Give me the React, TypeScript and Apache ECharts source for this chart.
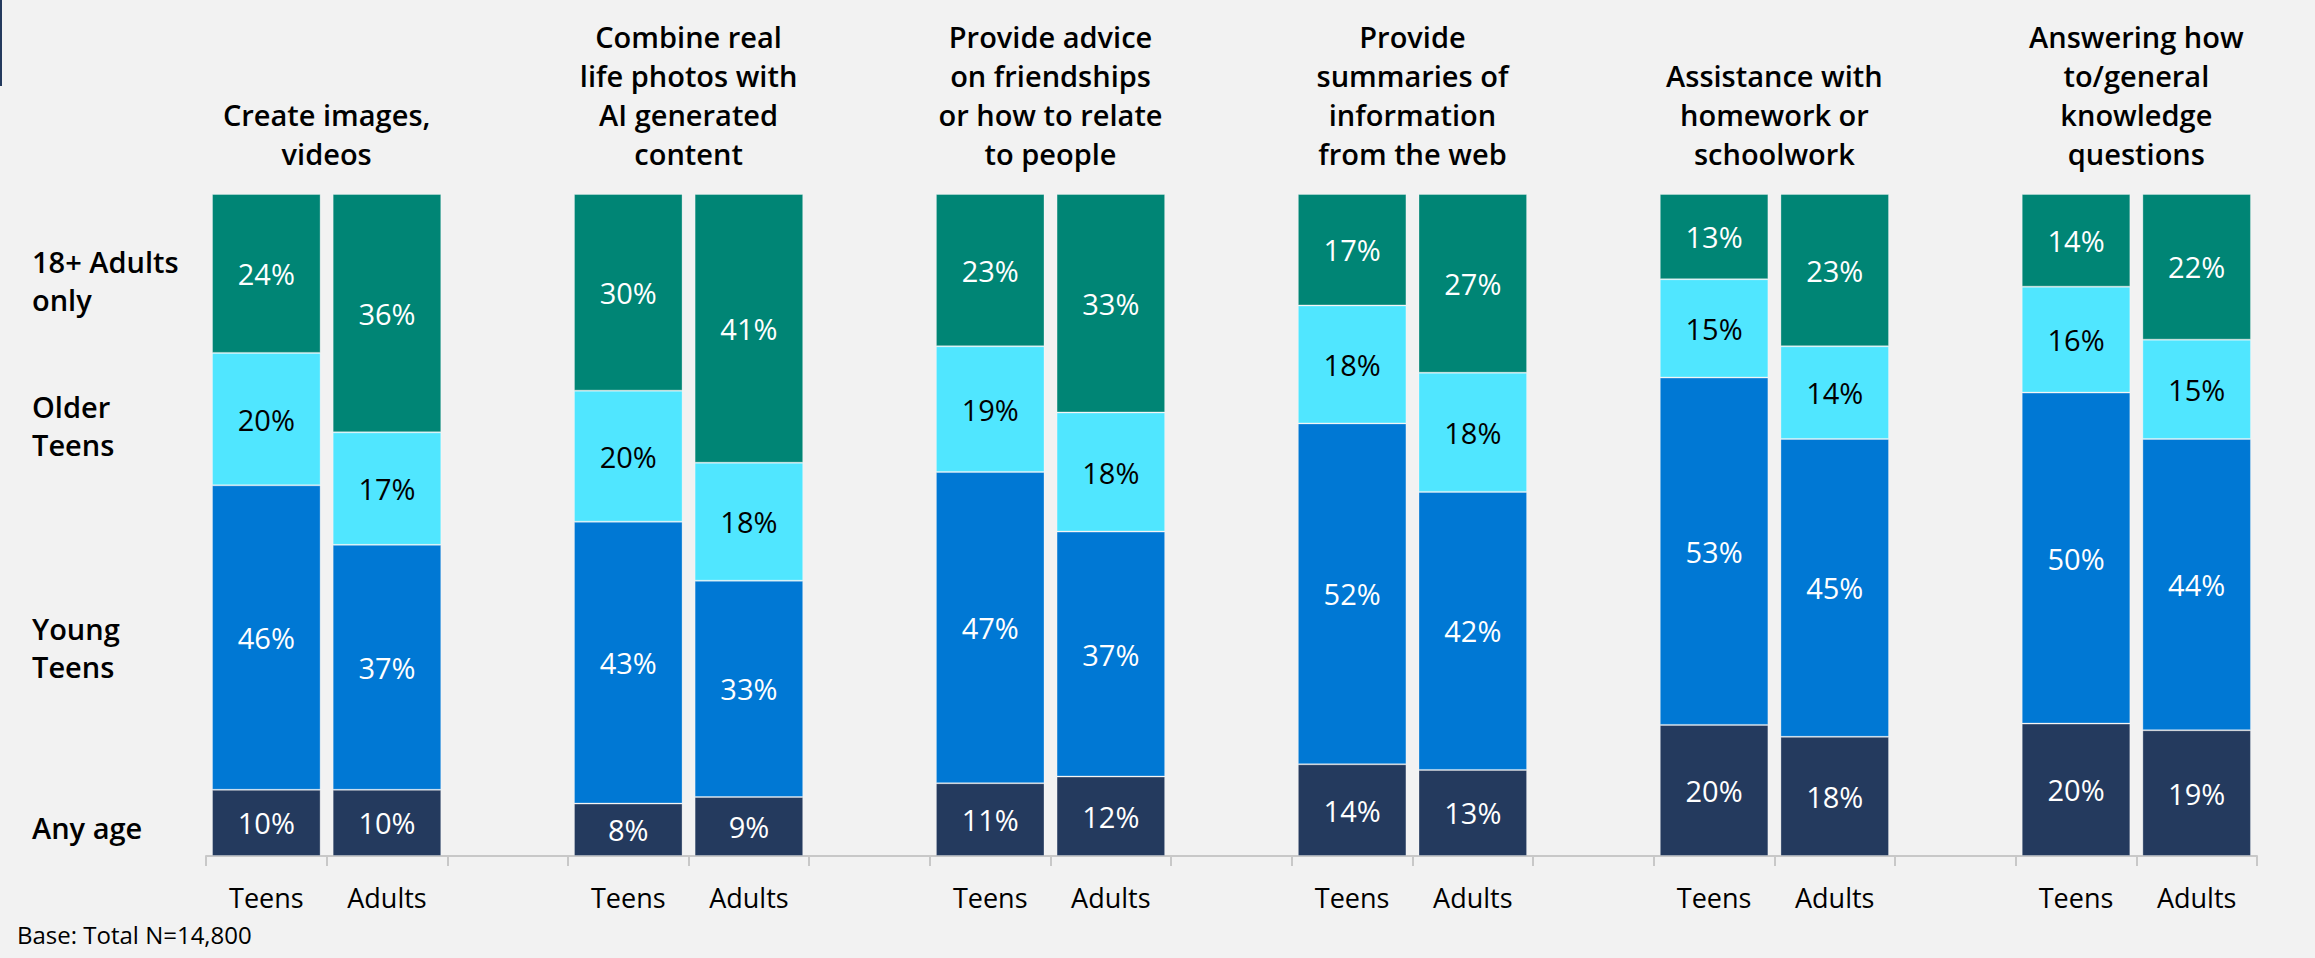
import React, { useEffect, useRef } from "react";
import * as echarts from "echarts";

const groupTitles = [
  "Create images,\nvideos",
  "Combine real\nlife photos with\nAI generated\ncontent",
  "Provide advice\non friendships\nor how to relate\nto people",
  "Provide\nsummaries of\ninformation\nfrom the web",
  "Assistance with\nhomework or\nschoolwork",
  "Answering how\nto/general\nknowledge\nquestions",
];
const barLabels = ["Teens", "Adults"];

// values per group: [teens, adults]
const anyAgeTeens = [10, 8, 11, 14, 20, 20];
const anyAgeAdults = [10, 9, 12, 13, 18, 19];
const youngTeensTeens = [46, 43, 47, 52, 53, 50];
const youngTeensAdults = [37, 33, 37, 42, 45, 44];
const olderTeensTeens = [20, 20, 19, 18, 15, 16];
const olderTeensAdults = [17, 18, 18, 18, 14, 15];
const adultsOnlyTeens = [24, 30, 23, 17, 13, 14];
const adultsOnlyAdults = [36, 41, 33, 27, 23, 22];

const seriesNames = ["Any age", "Young Teens", "Older Teens", "18+ Adults only"];
const legendLabels = ["18+ Adults\nonly", "Older\nTeens", "Young\nTeens", "Any age"];
const colors = ["#243A5E", "#0078D4", "#50E6FF", "#008575"];
const labelColors = ["#ffffff", "#ffffff", "#000000", "#ffffff"];
const baseNote = "Base: Total N=14,800";

const FONT = "'Open Sans', 'Noto Sans', sans-serif";

export default function App() {
  const ref = useRef<HTMLDivElement>(null);
  useEffect(() => {
    if (!ref.current) return;
    const chart = echarts.init(ref.current, null, { renderer: "svg" });

    const teensSets = [anyAgeTeens, youngTeensTeens, olderTeensTeens, adultsOnlyTeens];
    const adultsSets = [anyAgeAdults, youngTeensAdults, olderTeensAdults, adultsOnlyAdults];
    const nG = groupTitles.length;

    // 17 slots: T, A, gap, T, A, gap, ...
    const categories: string[] = [];
    for (let g = 0; g < nG; g++) {
      categories.push(barLabels[0], barLabels[1]);
      if (g < nG - 1) categories.push("");
    }
    const topCats: string[] = [];
    for (let i = 0; i <= categories.length; i++) topCats.push("");
    for (let g = 0; g < nG; g++) topCats[3 * g + 1] = groupTitles[g];

    const sums = (sets: number[][], g: number) => sets.reduce((s, arr) => s + arr[g], 0);

    const series = seriesNames.map((name, si) => {
      const data: any[] = [];
      for (let g = 0; g < nG; g++) {
        const tS = sums(teensSets, g);
        const aS = sums(adultsSets, g);
        data.push({ value: (teensSets[si][g] / tS) * 100, raw: teensSets[si][g] });
        data.push({ value: (adultsSets[si][g] / aS) * 100, raw: adultsSets[si][g] });
        if (g < nG - 1) data.push(null);
      }
      return {
        name,
        type: "bar",
        stack: "total",
        barCategoryGap: "10%",
        data,
        itemStyle: {
          color: colors[si],
          borderColor: "rgba(255,255,255,0.3)",
          borderWidth: 1,
        },
        label: {
          show: true,
          position: "inside",
          color: labelColors[si],
          fontFamily: FONT,
          fontSize: 29,
          formatter: (p: any) => (p.data && p.data.raw != null ? p.data.raw + "%" : ""),
        },
      };
    });

    const legendYs = [280, 425, 647, 827];

    chart.setOption({
      animation: false,
      backgroundColor: "#f2f2f2",
      grid: { left: 206, right: 58, top: 194, bottom: 102, containLabel: false },
      xAxis: [
        {
          type: "category",
          data: categories,
          axisLine: { lineStyle: { color: "#c8c8c8", width: 2 } },
          axisTick: { show: true, length: 10, lineStyle: { color: "#c8c8c8", width: 2 } },
          axisLabel: { color: "#000", fontFamily: FONT, fontSize: 27, margin: 28, interval: 0 },
        },
        {
          type: "category",
          position: "top",
          boundaryGap: false,
          data: topCats,
          axisLine: { show: false },
          axisTick: { show: false },
          splitLine: { show: false },
          axisLabel: {
            interval: 0,
            color: "#000",
            fontFamily: FONT,
            fontWeight: 600,
            fontSize: 29,
            lineHeight: 39,
            margin: 21,
            align: "center",
          },
        },
      ],
      yAxis: { type: "value", min: 0, max: 100, show: false },
      series,
      graphic: [
        { type: "rect", left: 0, top: 0, shape: { width: 2, height: 86 }, style: { fill: "#243A5E" } },
        ...legendLabels.map((t, i) => ({
          type: "text",
          x: 32,
          y: legendYs[i],
          style: {
            text: t,
            fill: "#000",
            font: `600 29px ${FONT}`,
            lineHeight: 38,
            textAlign: "left",
            textVerticalAlign: "middle",
          },
        })),
        {
          type: "text",
          x: 17,
          y: 934,
          style: {
            text: baseNote,
            fill: "#000",
            font: `24px ${FONT}`,
            textAlign: "left",
            textVerticalAlign: "middle",
          },
        },
      ],
    });
    return () => chart.dispose();
  }, []);
  return (
    <div
      ref={ref}
      style={{ position: "absolute", left: 0, top: 0, width: 2315, height: 958 }}
    />
  );
}
